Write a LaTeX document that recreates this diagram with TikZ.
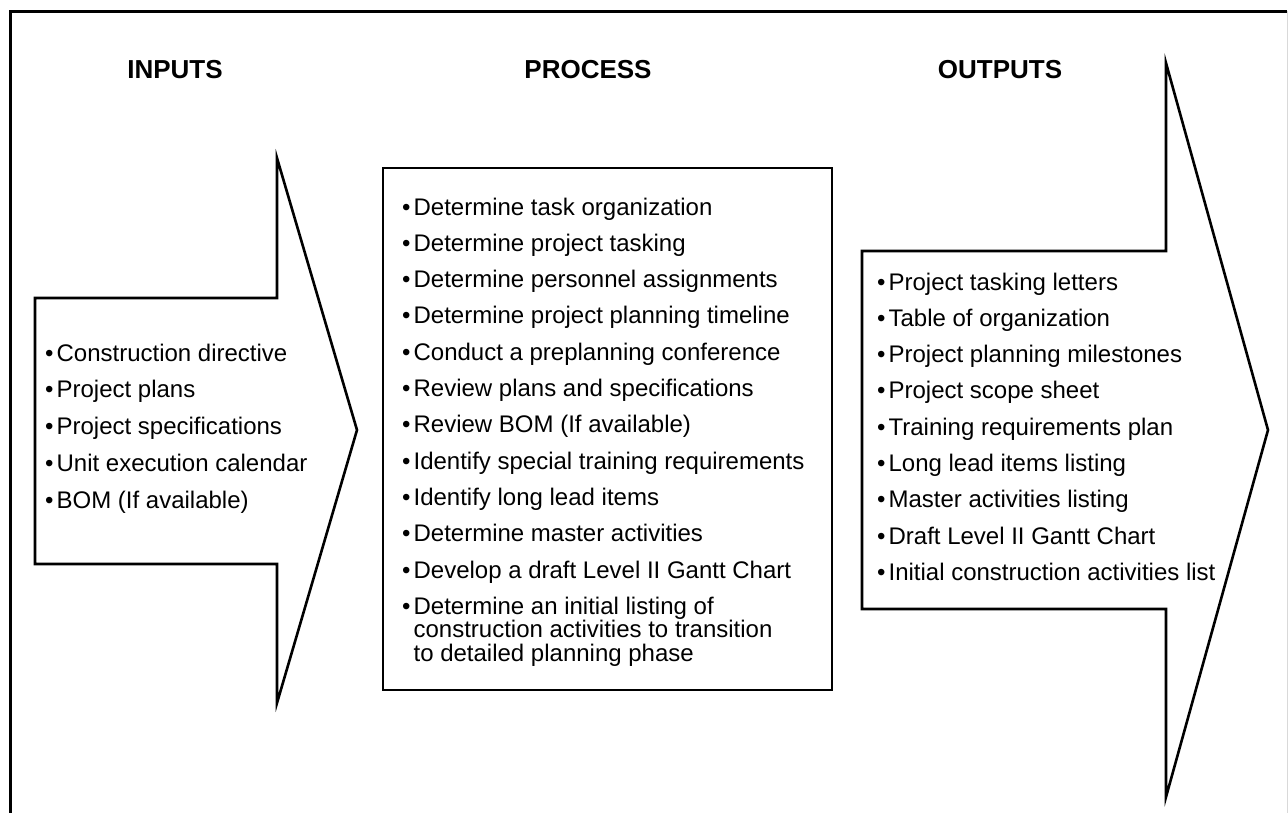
\documentclass[tikz,border=0pt]{standalone}
\usepackage{fontspec}
\setmainfont{Liberation Sans}
\begin{document}
\begin{tikzpicture}[x=1pt,y=-1pt,
  shapeline/.style={draw=black,line width=2.6pt,line join=miter},
  item/.style={anchor=base west,inner sep=0pt,font=\fontsize{24}{24}\selectfont},
  title/.style={anchor=base,inner sep=0pt,font=\bfseries\fontsize{26}{26}\selectfont}]
\useasboundingbox (0,0) rectangle (1288,812);
% frame
\draw[line width=3pt] (10,813) -- (10,11) -- (1287,11);
\draw[line width=1pt,black!15] (1287,11) -- (1287,813);
% titles
\node[title] (tin) at (175,78) {INPUTS};
\node[title] (tproc) at (588,78) {PROCESS};
\node[title] (tout) at (1000,78) {OUTPUTS};
% shapes
\draw[shapeline] (35,298) -- (277,298) -- (277,158) -- (357,430) -- (277,703) -- (277,564) -- (35,564) -- cycle;
\draw[shapeline] (383,168) rectangle (832,690);
\draw[shapeline] (862,251) -- (1166,251) -- (1166,63) -- (1268,430) -- (1166,797) -- (1166,609) -- (862,609) -- cycle;
\newcommand{\bul}{•\kern3pt}
\newcommand{\nobul}{\phantom{•}\kern3pt}
% inputs
\node[item] (i1) at (45,361) {\bul Construction directive};
\node[item] (i2) at (45,397.8) {\bul Project plans};
\node[item] (i3) at (45,434.6) {\bul Project specifications};
\node[item] (i4) at (45,471.4) {\bul Unit execution calendar};
\node[item] (i5) at (45,508.2) {\bul BOM (If available)};
% process
\node[item] (p1) at (402,215) {\bul Determine task organization};
\node[item] (p2) at (402,251.3) {\bul Determine project tasking};
\node[item] (p3) at (402,287.6) {\bul Determine personnel assignments};
\node[item] (p4) at (402,323.9) {\bul Determine project planning timeline};
\node[item] (p5) at (402,360.2) {\bul Conduct a preplanning conference};
\node[item] (p6) at (402,396.5) {\bul Review plans and specifications};
\node[item] (p7) at (402,432.8) {\bul Review BOM (If available)};
\node[item] (p8) at (402,469.1) {\bul Identify special training requirements};
\node[item] (p9) at (402,505.4) {\bul Identify long lead items};
\node[item] (p10) at (402,541.7) {\bul Determine master activities};
\node[item] (p11) at (402,578) {\bul Develop a draft Level II Gantt Chart};
\node[item] (p12) at (402,614.3) {\bul Determine an initial listing of};
\node[item] (p12b) at (402,637.8) {\nobul construction activities to transition};
\node[item] (p12c) at (402,661.3) {\nobul to detailed planning phase};
% outputs
\node[item] (o1) at (877,290) {\bul Project tasking letters};
\node[item] (o2) at (877,326.3) {\bul Table of organization};
\node[item] (o3) at (877,362.6) {\bul Project planning milestones};
\node[item] (o4) at (877,398.9) {\bul Project scope sheet};
\node[item] (o5) at (877,435.2) {\bul Training requirements plan};
\node[item] (o6) at (877,471.5) {\bul Long lead items listing};
\node[item] (o7) at (877,507.8) {\bul Master activities listing};
\node[item] (o8) at (877,544.1) {\bul Draft Level II Gantt Chart};
\node[item] (o9) at (877,580.4) {\bul Initial construction activities list};
\end{tikzpicture}
\end{document}
